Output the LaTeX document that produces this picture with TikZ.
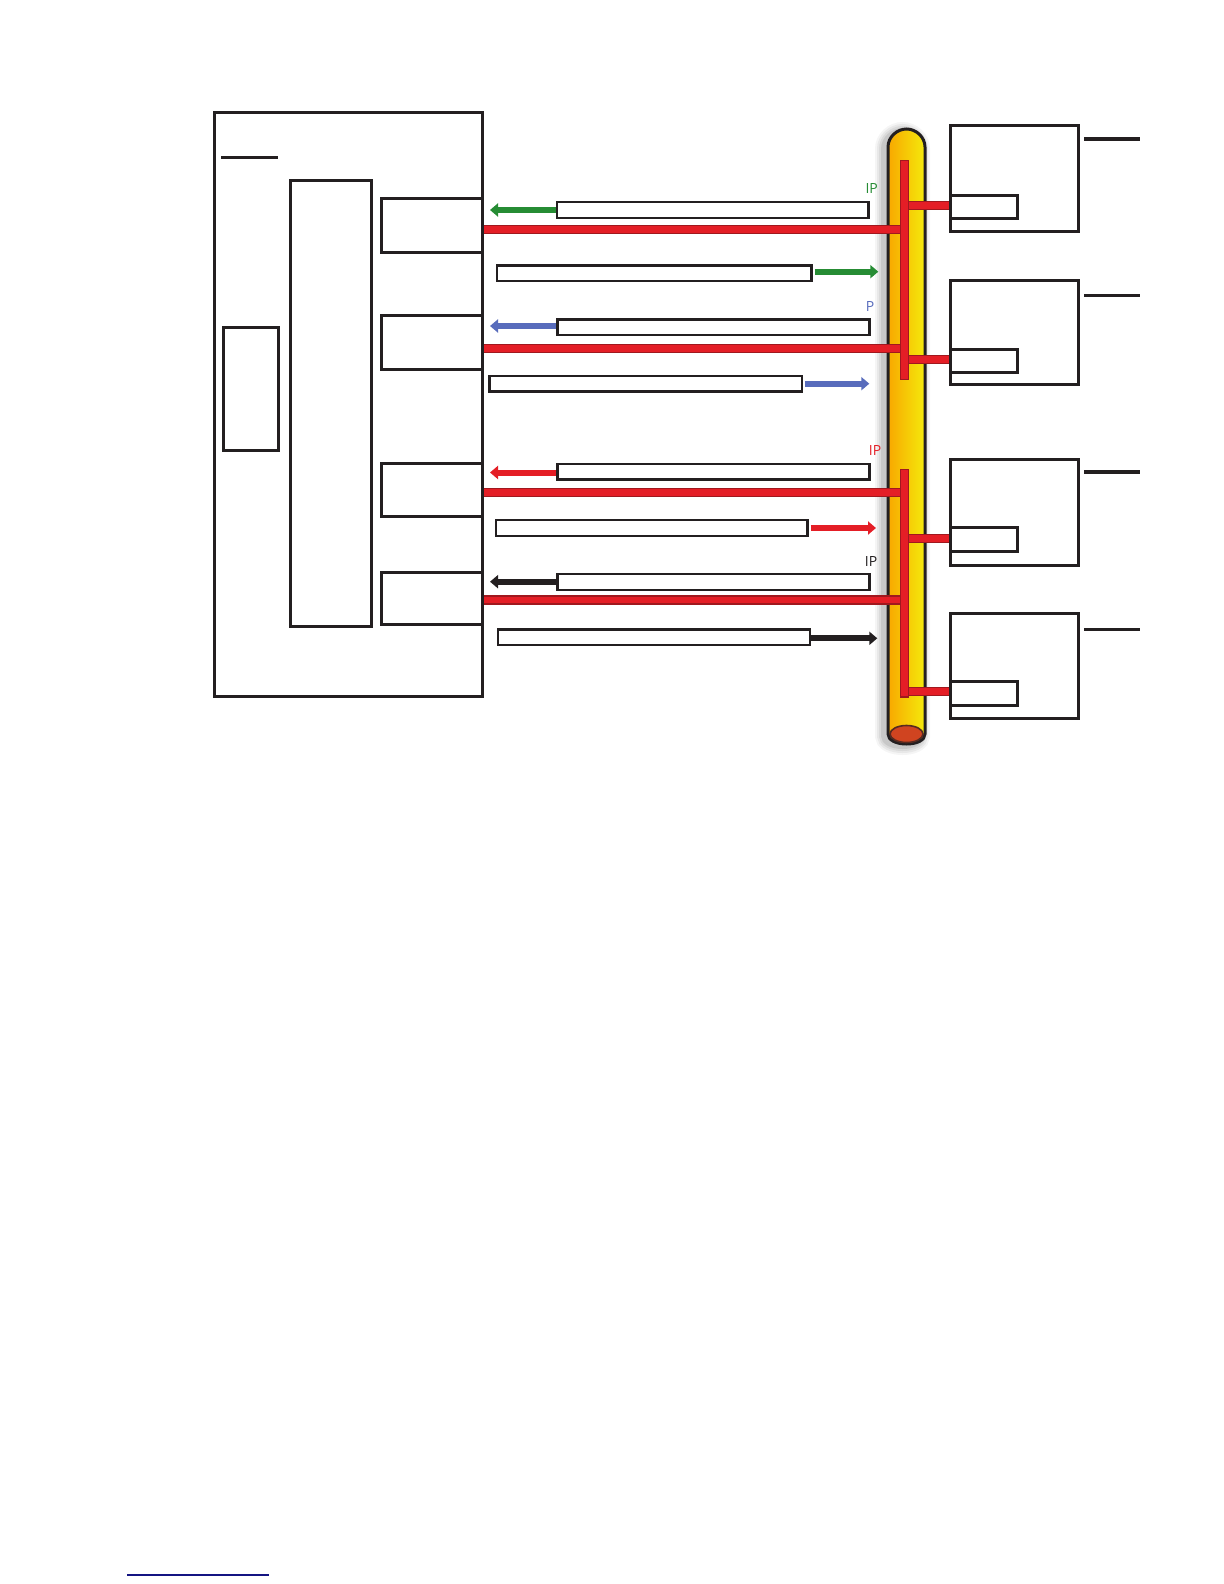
\documentclass[tikz,border=0pt]{standalone}
\usepackage{fontspec}
\newfontfamily\lblfont{Open Sans}
\usetikzlibrary{arrows.meta,fit,calc}
\definecolor{inkc}{RGB}{35,31,32}
\definecolor{busred}{RGB}{228,30,38}
\definecolor{busdark}{RGB}{160,24,30}
\definecolor{grnc}{RGB}{38,140,52}
\definecolor{bluc}{RGB}{88,108,188}
\definecolor{pipeor}{RGB}{248,168,0}
\definecolor{pipeye}{RGB}{244,234,12}
\definecolor{capc}{RGB}{208,68,32}
\definecolor{navyc}{RGB}{20,20,130}
\begin{document}
\begin{tikzpicture}[x=0.5pt,y=-0.5pt,
  box/.style={draw=inkc, line width=1.5pt, inner sep=0pt, fill=white},
  rowbox/.style={draw=inkc, line width=1.2pt, inner sep=0pt, fill=white},
  fatarrow/.style={line width=3pt, -{Triangle[length=4pt,width=6.5pt]}},
  bus/.style={draw=busdark, line width=0.6pt, double=busred, double distance=3.4pt},
  bar/.style={draw=busdark, line width=0.6pt, fill=busred, inner sep=0pt},
  lbl/.style={font=\lblfont\fontsize{7}{8}\selectfont, inner sep=0pt}]
\fill[white] (0,0) rectangle (1224,1584);
\useasboundingbox (0,0) rectangle (1224,1584);

% ---- pipe ----
\def\pipepath{(888,734) -- (888,147) .. controls (888,137) and (897,129) .. (906.5,129) .. controls (916,129) and (925,137) .. (925,147) -- (925,734) .. controls (925,740) and (917,744) .. (906.5,744) .. controls (896,744) and (888,740) .. (888,734) -- cycle}
\foreach \w/\o in {9/0.04,7/0.05,5/0.06,3/0.08}{
  \draw[black, line width=\w pt, opacity=\o, xshift=-2pt, yshift=-1pt] \pipepath;}
\path[left color=pipeor, right color=pipeye] \pipepath;
\draw[inkc, line width=1.5pt] \pipepath;
\draw[fill=capc, draw=inkc!70!capc, line width=0.8pt] (906.5,734) ellipse [x radius=16.5, y radius=8.5];

% ---- vertical bars on pipe ----
\node[bar, fit={(900.7,160.7)(908.3,379.3)}] (vb1) {};
\node[bar, fit={(900.7,469.3)(908.3,697)}] (vb2) {};

% ---- left block ----
\node[box, fit={(214,112.7)(482.7,696.7)}] (main) {};
\draw[inkc, line width=1.5pt] (221,157.3) -- (278,157.3);
\node[box, fit={(290,180)(371,626)}] (tall) {};
\node[box, fit={(223.3,327.3)(278,450)}] (ls) {};
\node[box, fit={(381,198.7)(482.7,252)}] (sb1) {};
\node[box, fit={(381,315.3)(482.7,369)}] (sb2) {};
\node[box, fit={(381,463.3)(482.7,516.7)}] (sb3) {};
\node[box, fit={(381,572)(482.7,624.7)}] (sb4) {};

% ---- right boxes (positions) ----
\coordinate (sAw) at (950,205.7);
\coordinate (sBw) at (950,359.3);
\coordinate (sCw) at (950,538.3);
\coordinate (sDw) at (950,691.7);

% ---- buses ----
\draw[bus] (sb1.east |- 0,229.3) -- (vb1.west |- 0,229.3);
\draw[bus] (sb2.east |- 0,348.7) -- (vb1.west |- 0,348.7);
\draw[bus] (sb3.east |- 0,492.3) -- (vb2.west |- 0,492.3);
\draw[bus] (sb4.east |- 0,600) -- (vb2.west |- 0,600);
\draw[bus] (vb1.east |- sAw) -- (sAw);
\draw[bus] (vb1.east |- sBw) -- (sBw);
\draw[bus] (vb2.east |- sCw) -- (sCw);
\draw[bus] (vb2.east |- sDw) -- (sDw);

\node[box, fill=none, fit={(950,125.7)(1078.3,231.7)}] (bA) {};
\node[box, fill=none, fit={(950,195)(1017.7,218.3)}] (sA) {};
\node[box, fill=none, fit={(950,280)(1078.3,384.8)}] (bB) {};
\node[box, fill=none, fit={(950,349)(1017.7,372.6)}] (sB) {};
\node[box, fill=none, fit={(950,459)(1078.3,565)}] (bC) {};
\node[box, fill=none, fit={(950,527.7)(1017.7,551.7)}] (sC) {};
\node[box, fill=none, fit={(950,613.3)(1078.3,718.3)}] (bD) {};
\node[box, fill=none, fit={(950,681.7)(1017.7,705.7)}] (sD) {};
\draw[inkc, line width=1.5pt] (1084.3,139) -- (1140,139);
\draw[inkc, line width=1.5pt] (1084.3,295.7) -- (1140,295.7);
\draw[inkc, line width=2pt] (1084.3,472.3) -- (1140,472.3);
\draw[inkc, line width=1.5pt] (1084.3,629) -- (1140,629);

% ---- message rows ----
\node[rowbox, fit={(556.7,202)(868.3,218)}] (r1l) {};
\node[rowbox, fit={(496.7,265.3)(811.3,280.7)}] (r1r) {};
\node[rowbox, fit={(557.3,319.3)(869.3,334.7)}] (r2l) {};
\node[rowbox, fit={(489.3,376)(801.7,391.3)}] (r2r) {};
\node[rowbox, fit={(557.3,463.7)(869.3,479.3)}] (r3l) {};
\node[rowbox, fit={(495.7,520)(807.3,536)}] (r3r) {};
\node[rowbox, fit={(557.3,574)(869.3,590)}] (r4l) {};
\node[rowbox, fit={(497.7,629.3)(810,644.7)}] (r4r) {};

\coordinate (t1l) at (490,210);
\coordinate (t1r) at (878.3,271.7);
\coordinate (t2l) at (490,326);
\coordinate (t2r) at (869.3,383.7);
\coordinate (t3l) at (490,472.5);
\coordinate (t3r) at (876,528);
\coordinate (t4l) at (490,581.7);
\coordinate (t4r) at (877.3,638.3);

\draw[fatarrow, grnc] (r1l.west |- t1l) -- (t1l);
\draw[fatarrow, grnc] ([xshift=1pt]r1r.east |- t1r) -- (t1r);
\draw[fatarrow, bluc] (r2l.west |- t2l) -- (t2l);
\draw[fatarrow, bluc] ([xshift=1pt]r2r.east |- t2r) -- (t2r);
\draw[fatarrow, busred] (r3l.west |- t3l) -- (t3l);
\draw[fatarrow, busred] ([xshift=1pt]r3r.east |- t3r) -- (t3r);
\draw[fatarrow, inkc] (r4l.west |- t4l) -- (t4l);
\draw[fatarrow, inkc] (r4r.east |- t4r) -- (t4r);

\node[lbl, text=grnc] (ip1) at (871.7,189) {IP};
\node[lbl, text=bluc] (p2) at (870,306) {P};
\node[lbl, text=busred] (ip3) at (875,450.7) {IP};
\node[lbl, text=inkc] (ip4) at (871,561) {IP};

% ---- bottom link underline ----
\draw[navyc, line width=0.7pt] (127.3,1575) -- (269,1575);
\end{tikzpicture}
\end{document}
